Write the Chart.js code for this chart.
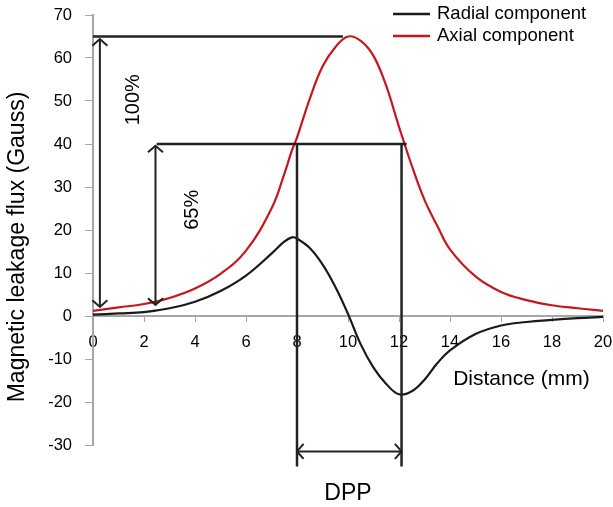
<!DOCTYPE html>
<html>
<head>
<meta charset="utf-8">
<script src="https://cdn.jsdelivr.net/npm/chart.js@4/dist/chart.umd.min.js"></script>
<style>
html,body{margin:0;padding:0;background:#fff;}
</style>
</head>
<body>
<canvas id="chart" width="613" height="507"></canvas>
<script>
// --- data ---
const distance = [0,1,2,3,4,5,6,7,7.5,7.8,8,8.5,9,9.5,10,10.5,11,11.5,12,12.5,13,13.5,14,15,16,17,18,19,20];
const radial   = [0.3,0.6,0.9,1.8,3.3,5.8,9.4,14.5,17.3,18.3,18.0,15.8,12.0,6.8,0.5,-6.6,-12,-15.8,-18.2,-17.5,-14.8,-11,-8,-4.2,-2.2,-1.4,-0.9,-0.5,-0.2];
const axial    = [1.2,2.0,2.8,4.2,6.4,9.8,15.2,25,33,38.5,41.5,50.5,58,62.5,65,64,60.5,53.5,44,35,27,21,15.5,9.2,5.6,3.7,2.5,1.8,1.2];
const seriesNames = ['Radial component','Axial component'];
const seriesColors = ['#1a1a1a','#c8161d'];

// guide lines [x1, y1, x2, y2] in data units
const guideLines = [[0,65,9.8,65],[2.5,40,12.3,40],[8,40,8,-35],[12.1,40,12.1,-35]];
// double arrows [x1, y1, x2, y2]
const arrows = [[0.27,2.1,0.27,64.4],[2.45,2.6,2.45,39.6],[8,-31.5,12.1,-31.5]];
// notes [text, x, y, rotated]
const notes = [['100%',1.57,50.3,true],['65%',3.92,24.7,true],['DPP',10,-41.3,false],['Distance (mm)',16.8,-14.7,false]];

const FONT = '"Liberation Sans", Arial, sans-serif';
const axisGray = '#a6a6a6';

function arrowHead(ctx, tx, ty, ang){
  const len = 10, spread = 0.85;
  ctx.beginPath();
  ctx.moveTo(tx - len*Math.cos(ang-spread), ty - len*Math.sin(ang-spread));
  ctx.lineTo(tx, ty);
  ctx.lineTo(tx - len*Math.cos(ang+spread), ty - len*Math.sin(ang+spread));
  ctx.stroke();
}

// --- annotations, legend, y title ---
const overlay = {
  id:'overlay',
  afterDatasetsDraw(chart){
    const {ctx, scales:{x, y}} = chart;
    ctx.save();
    ctx.strokeStyle = '#222';
    ctx.lineWidth = 2.5;
    guideLines.forEach(g=>{
      ctx.beginPath();
      ctx.moveTo(x.getPixelForValue(g[0]), y.getPixelForValue(g[1]));
      ctx.lineTo(x.getPixelForValue(g[2]), y.getPixelForValue(g[3]));
      ctx.stroke();
    });
    ctx.lineWidth = 2;
    arrows.forEach(a=>{
      const x1=x.getPixelForValue(a[0]), y1=y.getPixelForValue(a[1]);
      const x2=x.getPixelForValue(a[2]), y2=y.getPixelForValue(a[3]);
      ctx.beginPath(); ctx.moveTo(x1,y1); ctx.lineTo(x2,y2); ctx.stroke();
      const ang = Math.atan2(y2-y1, x2-x1);
      arrowHead(ctx, x2, y2, ang);
      arrowHead(ctx, x1, y1, ang+Math.PI);
    });

    ctx.fillStyle = '#000';
    ctx.textBaseline = 'middle';
    ctx.textAlign = 'center';
    notes.forEach(n=>{
      const px = x.getPixelForValue(n[1]), py = y.getPixelForValue(n[2]);
      if(n[3]){
        ctx.font = '20px ' + FONT;
        ctx.save(); ctx.translate(px,py); ctx.rotate(-Math.PI/2);
        ctx.fillText(n[0],0,0); ctx.restore();
      } else {
        ctx.font = (n[0]==='DPP' ? '23px ' : '21px ') + FONT;
        ctx.fillText(n[0],px,py);
      }
    });

    // y axis title
    ctx.font = '23px ' + FONT;
    ctx.save(); ctx.translate(18,247); ctx.rotate(-Math.PI/2);
    ctx.fillText('Magnetic leakage flux (Gauss)',0,0); ctx.restore();

    // legend
    ctx.textAlign = 'left';
    ctx.font = '18.5px ' + FONT;
    seriesNames.forEach((name,i)=>{
      const ly = 14 + i*22;
      ctx.strokeStyle = seriesColors[i];
      ctx.lineWidth = 2.5;
      ctx.beginPath(); ctx.moveTo(393,ly); ctx.lineTo(430,ly); ctx.stroke();
      ctx.fillText(name, 437, ly);
    });
    ctx.restore();
  }
};

new Chart(document.getElementById('chart'), {
  type:'line',
  data:{
    datasets:[
      {label:seriesNames[0], data:distance.map((d,i)=>({x:d,y:radial[i]})), borderColor:seriesColors[0], borderWidth:2.2, pointRadius:0, tension:0.4, fill:false},
      {label:seriesNames[1], data:distance.map((d,i)=>({x:d,y:axial[i]})), borderColor:seriesColors[1], borderWidth:2.2, pointRadius:0, tension:0.4, fill:false}
    ]
  },
  options:{
    responsive:false,
    animation:false,
    events:[],
    layout:{padding:{left:0,right:10,top:15,bottom:62}},
    plugins:{legend:{display:false}, tooltip:{enabled:false}},
    scales:{
      x:{
        type:'linear', min:0, max:20, position:{y:0},
        afterFit:s=>{ s.height = 0; s.paddingLeft = 0; s.paddingRight = 0; },
        grid:{drawOnChartArea:false, tickLength:5, color:axisGray},
        border:{color:axisGray, width:2},
        ticks:{stepSize:2, padding:12, color:'#000', maxRotation:0, font:{family:FONT, size:16.5}}
      },
      y:{
        min:-30, max:70,
        afterFit:s=>{ s.width = 93; s.paddingTop = 0; s.paddingBottom = 0; },
        grid:{drawOnChartArea:false, tickLength:8, color:axisGray},
        border:{color:axisGray, width:2},
        ticks:{stepSize:10, padding:13, color:'#000', font:{family:FONT, size:16.5}}
      }
    }
  },
  plugins:[overlay]
});
</script>
</body>
</html>
